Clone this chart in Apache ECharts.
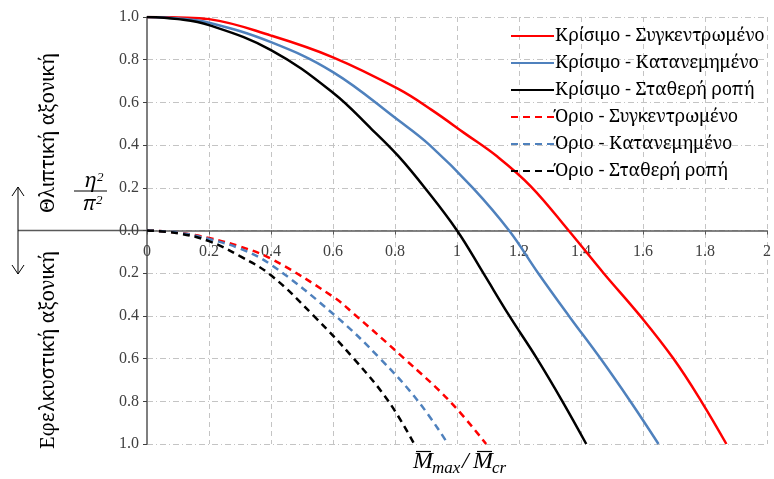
<!DOCTYPE html>
<html>
<head>
<meta charset="utf-8">
<script src="https://cdn.jsdelivr.net/npm/echarts@6/dist/echarts.min.js"></script>
<style>
  html, body { margin: 0; padding: 0; background: #fff; }
  #main { width: 774px; height: 479px; }
</style>
</head>
<body>
<div id="main"></div>
<script>
// values: [Mmax/Mcr, eta^2/pi^2]  (negative = tension side)
const critConc = [[0, 1], [0.1, 0.998], [0.2, 0.99], [0.4, 0.913], [0.6, 0.811], [0.812, 0.662], [0.918, 0.565],
  [1.025, 0.455], [1.131, 0.345], [1.238, 0.207], [1.36, 0], [1.473, -0.2], [1.591, -0.4],
  [1.698, -0.6], [1.788, -0.8], [1.869, -1.0]];
const critDist = [[0, 1], [0.1, 0.993], [0.2, 0.973], [0.4, 0.882], [0.6, 0.742], [0.811, 0.516], [0.912, 0.4],
  [1.051, 0.2], [1.168, 0], [1.262, -0.2], [1.361, -0.4], [1.463, -0.6], [1.559, -0.8], [1.65, -1.0]];
const critConst = [[0, 1], [0.1, 0.99], [0.2, 0.962], [0.4, 0.845], [0.6, 0.645], [0.725, 0.474], [0.811, 0.348],
  [0.896, 0.2], [1.0, 0], [1.085, -0.2], [1.169, -0.4], [1.258, -0.6], [1.34, -0.8], [1.417, -1.0]];
const limConc = [[0, 0], [0.1, -0.01], [0.2, -0.035], [0.3, -0.075], [0.4, -0.132], [0.6, -0.31], [0.667, -0.39],
  [0.83, -0.6], [0.977, -0.8], [1.094, -1.0]];
const limDist = [[0, 0], [0.1, -0.01], [0.2, -0.04], [0.3, -0.085], [0.4, -0.16], [0.608, -0.4], [0.752, -0.6],
  [0.875, -0.8], [0.971, -1.0]];
const limConst = [[0, 0], [0.1, -0.013], [0.2, -0.05], [0.3, -0.12], [0.4, -0.21], [0.538, -0.4], [0.667, -0.6],
  [0.779, -0.8], [0.862, -1.0]];

const seriesNames = ['Κρίσιμο - Συγκεντρωμένο', 'Κρίσιμο - Κατανεμημένο', 'Κρίσιμο - Σταθερή ροπή',
  'Όριο - Συγκεντρωμένο', 'Όριο - Κατανεμημένο', 'Όριο - Σταθερή ροπή'];
const seriesData = [critConc, critDist, critConst, limConc, limDist, limConst];
const seriesColors = ['#ff0000', '#4f81bd', '#000000', '#ff0000', '#4f81bd', '#000000'];

// numbers and latin in Liberation Serif; greek text in Noto Serif
const serif = "'Liberation Serif', serif";
const greek = "'Noto Serif', serif";
const font = function (size, italic, fam) {
  return (italic ? 'italic ' : '') + size + 'px ' + (fam || serif);
};
const chart = echarts.init(document.getElementById('main'));

const series = seriesData.map(function (d, i) {
  return {
    name: seriesNames[i],
    type: 'line',
    data: d,
    smooth: 0.4,
    showSymbol: false,
    symbol: 'none',
    color: seriesColors[i],
    lineStyle: {
      color: seriesColors[i],
      width: 2.5,
      type: i < 3 ? 'solid' : [7, 5]
    }
  };
});

const option = {
  animation: false,
  backgroundColor: '#fff',
  grid: { left: 147, right: 4, top: 17, bottom: 35 },
  legend: {
    orient: 'vertical',
    left: 505,
    top: 22,
    itemWidth: 43,
    itemHeight: 14,
    itemGap: 9,
    itemStyle: { opacity: 0 },
    textStyle: { fontFamily: greek, fontSize: 18, color: '#000', padding: [0, 0, 0, -4] },
    data: seriesNames
  },
  xAxis: {
    type: 'value',
    min: 0,
    max: 2,
    interval: 0.2,
    offset: -213.5,
    axisLine: { onZero: false, lineStyle: { color: '#595959', width: 1.5 } },
    axisTick: { show: true, length: 4, lineStyle: { color: '#595959' } },
    axisLabel: { fontFamily: serif, fontSize: 16, color: '#404040', margin: 13 },
    splitLine: { show: true, lineStyle: { color: '#c4c4c4', width: 1, type: [5, 4] } }
  },
  yAxis: {
    type: 'value',
    min: -1,
    max: 1,
    interval: 0.2,
    axisLine: { show: true, onZero: false, lineStyle: { color: '#7f7f7f', width: 2 } },
    axisTick: { show: true, length: 4, lineStyle: { color: '#404040' } },
    axisLabel: {
      fontFamily: serif, fontSize: 16, color: '#404040', margin: 8,
      formatter: function (v) { return Math.abs(v).toFixed(1); }
    },
    splitLine: { show: true, lineStyle: { color: '#c4c4c4', width: 1, type: [6, 3, 1, 3] } }
  },
  graphic: [
    // zero line continued to the left, with the up/down arrow
    { type: 'line', shape: { x1: 18, y1: 230.5, x2: 147, y2: 230.5 }, style: { stroke: '#595959', lineWidth: 1.5 } },
    { type: 'line', shape: { x1: 18, y1: 187, x2: 18, y2: 274 }, style: { stroke: '#000', lineWidth: 1 } },
    { type: 'polyline', shape: { points: [[12, 196], [18, 187], [24, 196]] }, style: { stroke: '#000', lineWidth: 1, fill: null } },
    { type: 'polyline', shape: { points: [[12, 265], [18, 274], [24, 265]] }, style: { stroke: '#000', lineWidth: 1, fill: null } },
    // side titles
    { type: 'text', x: 48, y: 133, rotation: Math.PI / 2,
      style: { text: 'Θλιπτική αξονική', font: font(20, false, greek), fill: '#000', align: 'center', verticalAlign: 'middle' } },
    { type: 'text', x: 48, y: 350, rotation: Math.PI / 2,
      style: { text: 'Εφελκυστική αξονική', font: font(20, false, greek), fill: '#000', align: 'center', verticalAlign: 'middle' } },
    // eta^2 / pi^2
    { type: 'text', x: 90, y: 191, style: { text: 'η', font: font(20, true, greek), fill: '#000', align: 'center', verticalAlign: 'bottom' } },
    { type: 'text', x: 97, y: 178, style: { text: '2', font: font(13, true), fill: '#000', align: 'left', verticalAlign: 'middle' } },
    { type: 'line', shape: { x1: 74, y1: 191, x2: 107, y2: 191 }, style: { stroke: '#000', lineWidth: 1 } },
    { type: 'text', x: 89, y: 214, style: { text: 'π', font: font(20, true, greek), fill: '#000', align: 'center', verticalAlign: 'bottom' } },
    { type: 'text', x: 96, y: 201, style: { text: '2', font: font(13, true), fill: '#000', align: 'left', verticalAlign: 'middle' } },
    // x axis title  M-bar max / M-bar cr
    { type: 'text', x: 413, y: 474, style: { text: 'M', font: font(24, true), fill: '#000', verticalAlign: 'bottom' } },
    { type: 'text', x: 432, y: 477, style: { text: 'max', font: font(17, true), fill: '#000', verticalAlign: 'bottom' } },
    { type: 'text', x: 462, y: 474, style: { text: '/', font: font(24, true), fill: '#000', verticalAlign: 'bottom' } },
    { type: 'text', x: 473, y: 474, style: { text: 'M', font: font(24, true), fill: '#000', verticalAlign: 'bottom' } },
    { type: 'text', x: 492, y: 477, style: { text: 'cr', font: font(17, true), fill: '#000', verticalAlign: 'bottom' } },
    { type: 'line', shape: { x1: 416, y1: 451.5, x2: 431, y2: 451.5 }, style: { stroke: '#000', lineWidth: 1.2 } },
    { type: 'line', shape: { x1: 477, y1: 451.5, x2: 492, y2: 451.5 }, style: { stroke: '#000', lineWidth: 1.2 } }
  ],
  series: series
};

chart.setOption(option);
</script>
</body>
</html>
